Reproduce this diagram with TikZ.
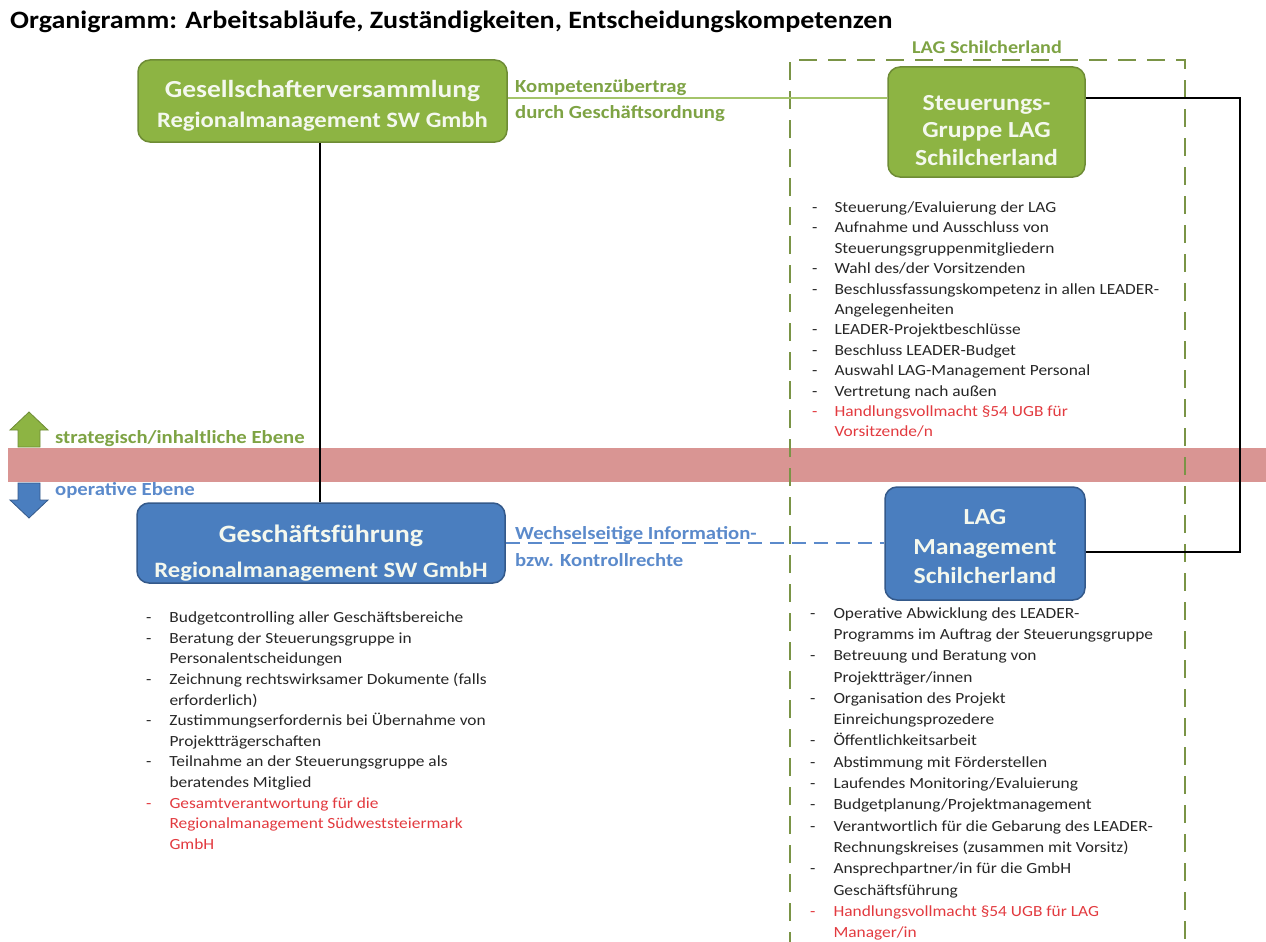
\documentclass[tikz,border=0pt]{standalone}
\usepackage{fontspec}
\setmainfont{Carlito}[FakeStretch=1.12]
\usetikzlibrary{calc}
\definecolor{gfill}{HTML}{8DB443}
\definecolor{gdraw}{HTML}{6E8C35}
\definecolor{bfill}{HTML}{4A7EBF}
\definecolor{bdraw}{HTML}{34598A}
\definecolor{gtext}{HTML}{7EA344}
\definecolor{btext}{HTML}{5B8ACB}
\definecolor{glinec}{HTML}{A4C46A}
\definecolor{framec}{HTML}{7A9446}
\definecolor{bandc}{HTML}{D99593}
\definecolor{redtext}{HTML}{E23A3F}
\definecolor{listtext}{HTML}{262626}
\definecolor{boxtext}{HTML}{F4F8EE}
\newcommand{\li}[1]{-&#1\\}
\newcommand{\lc}[1]{&#1\\}
\newcommand{\topstrut}[1]{\rule{0pt}{#1}}
\tikzset{
  orgbox/.style={rounded corners=12pt, line width=1.5pt, align=center, text=boxtext, inner sep=0pt},
  greenbox/.style={orgbox, fill=gfill, draw=gdraw},
  bluebox/.style={orgbox, fill=bfill, draw=bdraw},
  glabel/.style={text=gtext, font=\bfseries\fontsize{18.5}{22}\selectfont, anchor=west, inner sep=0pt},
  blabel/.style={text=btext, font=\bfseries\fontsize{18.5}{22}\selectfont, anchor=west, inner sep=0pt},
  listnode/.style={anchor=north west, inner sep=0pt, text=listtext, align=left},
  blackline/.style={line width=2pt, black},
  greenline/.style={line width=2.5pt, glinec},
  bluedash/.style={line width=2pt, btext, dash pattern=on 14pt off 8pt},
  framestyle/.style={line width=2pt, framec, dash pattern=on 18pt off 11pt},
}
\begin{document}
\begin{tikzpicture}[x=1pt,y=-1pt]
\useasboundingbox (0,0) rectangle (1266,942);
% title
\node[anchor=west, inner sep=0pt, font=\bfseries\fontsize{25}{30}\selectfont] (title) at (10,22) {Organigramm: Arbeitsabläufe, Zuständigkeiten, Entscheidungskompetenzen};
% band
\fill[bandc] (8,448) rectangle (1266,482);
% level arrows
\filldraw[fill=gfill, draw=gdraw, line width=0.8pt] (18,447) -- (18,430) -- (10,430) -- (29,412) -- (48,430) -- (40,430) -- (40,447) -- cycle;
\filldraw[fill=bfill, draw=bdraw, line width=0.8pt] (18,483) -- (40,483) -- (40,500) -- (48,500) -- (29,518) -- (10,500) -- (18,500) -- cycle;
\node[glabel] (strat) at (55,439) {strategisch/inhaltliche Ebene};
\node[blabel] (oper) at (55,490) {operative Ebene};
% frame
\draw[framestyle] (790,950) -- (790,60) -- (1185,60) -- (1185,950);
\node[glabel, anchor=center, font=\bfseries\fontsize{18}{22}\selectfont] (lagl) at (987,47) {LAG Schilcherland};
% boxes
\node[greenbox, minimum width=369pt, minimum height=82pt, font=\bfseries\fontsize{22}{30}\selectfont] (gv) at (322.5,101)
  {\topstrut{26pt}{\fontsize{24.5}{30}\selectfont Gesellschafterversammlung}\\Regionalmanagement SW Gmbh};
\node[greenbox, minimum width=197pt, minimum height=110pt, font=\bfseries\fontsize{23}{27.5}\selectfont] (sg) at (986.5,122)
  {\topstrut{32pt}Steuerungs-\\Gruppe LAG\\Schilcherland};
\node[bluebox, minimum width=368pt, minimum height=80pt, font=\bfseries\fontsize{22}{35}\selectfont] (gf) at (321,543)
  {\topstrut{37pt}{\fontsize{25}{35}\selectfont Geschäftsführung}\\Regionalmanagement SW GmbH};
\node[bluebox, minimum width=200pt, minimum height=113pt, font=\bfseries\fontsize{23}{29.5}\selectfont] (lm) at (985,543.5)
  {\topstrut{22pt}LAG\\Management\\Schilcherland};
% connectors
\coordinate (k) at (0,98);
\coordinate (r) at (1240,552);
\draw[greenline] (gv.east |- k) -- (sg.west |- k);
\draw[blackline] (gv.south -| 320,0) -- (gf.north -| 320,0);
\draw[blackline] (sg.east |- k) -| (r) -- (lm.east |- r);
\draw[bluedash] (gf.east) -- (lm.west |- gf.east);
% connector labels
\node[glabel] (k1) at (515,88) {Kompetenzübertrag};
\node[glabel] (k2) at (515,114) {durch Geschäftsordnung};
\node[blabel] (w1) at (515,535) {Wechselseitige Information-};
\node[blabel] (w2) at (515,560) {bzw. Kontrollrechte};
% lists
\node[listnode, font=\fontsize{15.5}{20.4}\selectfont] (l1) at (812,198) {\begin{tabular}{@{}l@{\hspace{17pt}}l@{}}
\li{Steuerung/Evaluierung der LAG}
\li{Aufnahme und Ausschluss von}
\lc{Steuerungsgruppenmitgliedern}
\li{Wahl des/der Vorsitzenden}
\li{Beschlussfassungskompetenz in allen LEADER-}
\lc{Angelegenheiten}
\li{LEADER-Projektbeschlüsse}
\li{Beschluss LEADER-Budget}
\li{Auswahl LAG-Management Personal}
\li{Vertretung nach außen}
\color{redtext}-&\color{redtext}Handlungsvollmacht §54 UGB für\\
&\color{redtext}Vorsitzende/n\\
\end{tabular}};
\node[listnode, font=\fontsize{15.5}{20.6}\selectfont] (l2) at (146,608) {\begin{tabular}{@{}l@{\hspace{18pt}}l@{}}
\li{Budgetcontrolling aller Geschäftsbereiche}
\li{Beratung der Steuerungsgruppe in}
\lc{Personalentscheidungen}
\li{Zeichnung rechtswirksamer Dokumente (falls}
\lc{erforderlich)}
\li{Zustimmungserfordernis bei Übernahme von}
\lc{Projektträgerschaften}
\li{Teilnahme an der Steuerungsgruppe als}
\lc{beratendes Mitglied}
\color{redtext}-&\color{redtext}Gesamtverantwortung für die\\
&\color{redtext}Regionalmanagement Südweststeiermark\\
&\color{redtext}GmbH\\
\end{tabular}};
\node[listnode, font=\fontsize{15.5}{21.3}\selectfont] (l3) at (810,603) {\begin{tabular}{@{}l@{\hspace{18pt}}l@{}}
\li{Operative Abwicklung des LEADER-}
\lc{Programms im Auftrag der Steuerungsgruppe}
\li{Betreuung und Beratung von}
\lc{Projektträger/innen}
\li{Organisation des Projekt}
\lc{Einreichungsprozedere}
\li{Öffentlichkeitsarbeit}
\li{Abstimmung mit Förderstellen}
\li{Laufendes Monitoring/Evaluierung}
\li{Budgetplanung/Projektmanagement}
\li{Verantwortlich für die Gebarung des LEADER-}
\lc{Rechnungskreises (zusammen mit Vorsitz)}
\li{Ansprechpartner/in für die GmbH}
\lc{Geschäftsführung}
\color{redtext}-&\color{redtext}Handlungsvollmacht §54 UGB für LAG\\
&\color{redtext}Manager/in\\
\end{tabular}};
\end{tikzpicture}
\end{document}
